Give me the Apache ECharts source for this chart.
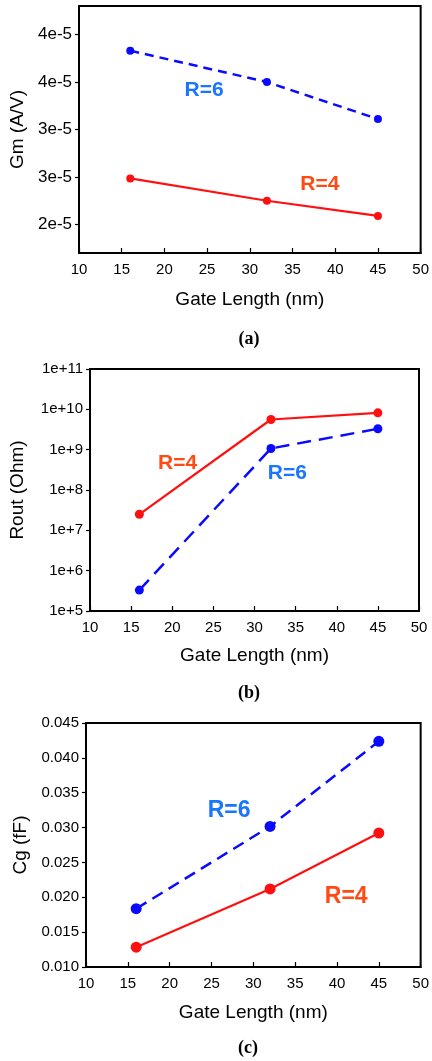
<!DOCTYPE html>
<html>
<head>
<meta charset="utf-8">
<script src="https://cdn.jsdelivr.net/npm/echarts@6/dist/echarts.min.js"></script>
<style>
html,body{margin:0;padding:0;background:#fff;}
#c{width:432px;height:1061px;}
</style>
</head>
<body>
<div id="c"></div>
<script>
// ---- data ----
var gateLength = [16, 32, 45];
var xTicks = [10, 15, 20, 25, 30, 35, 40, 45, 50];

// (a) Gm (A/V)
var gmR4 = [2.985e-5, 2.75e-5, 2.59e-5];
var gmR6 = [4.33e-5, 4.0e-5, 3.61e-5];
var gmTickValues = [2.5e-5, 3.0e-5, 3.5e-5, 4.0e-5, 4.5e-5];
var gmTickLabels = ['2e-5', '3e-5', '3e-5', '4e-5', '4e-5'];
var gmLabelR6 = [24.65, 3.91e-5];
var gmLabelR4 = [38.2, 2.926e-5];

// (b) Rout (Ohm)
var routR4 = [2.5e7, 5.6e9, 8.2e9];
var routR6 = [3.3e5, 1.07e9, 3.3e9];
var routTickValues = [1e5, 1e6, 1e7, 1e8, 1e9, 1e10, 1e11];
var routTickLabels = ['1e+5', '1e+6', '1e+7', '1e+8', '1e+9', '1e+10', '1e+11'];
var routLabelR4 = [20.66, 4.57e8];
var routLabelR6 = [34.0, 2.67e8];

// (c) Cg (fF)
var cgR4 = [0.01284, 0.0212, 0.02922];
var cgR6 = [0.01836, 0.03017, 0.04237];
var cgTickLabels = ['0.010', '0.015', '0.020', '0.025', '0.030', '0.035', '0.040', '0.045'];
var cgLabelR6 = [27.1, 0.03243];
var cgLabelR4 = [41.1, 0.02009];

// ---- styles ----
var FONT = '"Liberation Sans", Arial, sans-serif';
var BLUE_LINE = '#0a0aff';
var RED_LINE = '#ff1010';
var BLUE_TEXT = '#1a75ff';
var RED_TEXT = '#ff4a14';

function pick(values, labels, v) {
  var best = 0, bd = Infinity;
  for (var i = 0; i < values.length; i++) {
    var d = Math.abs(values[i] - v) / Math.abs(values[i]);
    if (d < bd) { bd = d; best = i; }
  }
  return labels[best];
}

function xAxisDef(idx, gap) {
  return {
    type: 'value', gridIndex: idx, min: 10, max: 50, interval: 5,
    name: 'Gate Length (nm)', nameLocation: 'middle', nameGap: gap,
    nameTextStyle: { fontFamily: FONT, fontSize: 19, color: '#000' },
    axisLine: { show: true, onZero: false, lineStyle: { color: '#000', width: 2 } },
    axisTick: { show: true, inside: true, length: 5, lineStyle: { color: '#000', width: 1.2 } },
    axisLabel: { fontFamily: FONT, fontSize: 15, color: '#000', margin: 9,
      formatter: function (v) { return String(v); } },
    splitLine: { show: false }
  };
}

function seriesPair(xi, yi, r4, r6, dash, sym, lab4, lab6, labSize) {
  function pts(arr) { return gateLength.map(function (x, i) { return [x, arr[i]]; }); }
  function mp(coord, text, color) {
    return {
      silent: true, symbol: 'circle', symbolSize: 0,
      data: [{ coord: coord, label: { show: true, position: 'inside', formatter: text,
        fontFamily: FONT, fontWeight: 'bold', fontSize: labSize, color: color } }]
    };
  }
  return [
    { type: 'line', xAxisIndex: xi, yAxisIndex: yi, data: pts(r6), symbol: 'circle', symbolSize: sym,
      itemStyle: { color: BLUE_LINE }, lineStyle: { color: BLUE_LINE, width: 2.5, type: dash },
      markPoint: mp(lab6, 'R=6', BLUE_TEXT), animation: false, z: 3 },
    { type: 'line', xAxisIndex: xi, yAxisIndex: yi, data: pts(r4), symbol: 'circle', symbolSize: sym,
      itemStyle: { color: RED_LINE }, lineStyle: { color: RED_LINE, width: 2.2 },
      markPoint: mp(lab4, 'R=4', RED_TEXT), animation: false, z: 3 }
  ];
}

var yCommon = {
  axisLine: { show: true, onZero: false, lineStyle: { color: '#000', width: 2 } },
  axisTick: { show: true, inside: false, length: 4, lineStyle: { color: '#000', width: 1.2 } },
  splitLine: { show: false },
  nameLocation: 'middle',
  nameTextStyle: { fontFamily: FONT, fontSize: 19, color: '#000' }
};

var chart = echarts.init(document.getElementById('c'), null, { renderer: 'canvas' });
var gridStyle = { show: true, borderColor: '#000', borderWidth: 2, backgroundColor: 'transparent', containLabel: false };
var serif = '"Liberation Serif", "Times New Roman", serif';

var option = {
  backgroundColor: '#fff',
  animation: false,
  title: [
    { text: '(a)', left: 244, top: 325, textAlign: 'center',
      textStyle: { fontFamily: serif, fontWeight: 'bold', fontSize: 18, color: '#000' } },
    { text: '(b)', left: 244, top: 679, textAlign: 'center',
      textStyle: { fontFamily: serif, fontWeight: 'bold', fontSize: 18, color: '#000' } },
    { text: '(c)', left: 243, top: 1034, textAlign: 'center',
      textStyle: { fontFamily: serif, fontWeight: 'bold', fontSize: 18, color: '#000' } }
  ],
  grid: [
    Object.assign({ left: 79, top: 6, width: 344, height: 247 }, gridStyle),
    Object.assign({ left: 82, top: 369, width: 337, height: 242 }, gridStyle),
    Object.assign({ left: 86, top: 723, width: 339, height: 244 }, gridStyle)
  ],
  xAxis: [xAxisDef(0, 37), xAxisDef(1, 35), xAxisDef(2, 36)],
  yAxis: [
    Object.assign({}, yCommon, {
      type: 'value', gridIndex: 0, min: 2.2e-5, max: 4.8e-5,
      name: 'Gm (A/V)', nameGap: 47,
      axisTick: Object.assign({}, yCommon.axisTick, { customValues: gmTickValues }),
      axisLabel: { customValues: gmTickValues, fontFamily: FONT, fontSize: 17, color: '#000', margin: 7,
        formatter: function (v) { return pick(gmTickValues, gmTickLabels, v); } }
    }),
    Object.assign({}, yCommon, {
      type: 'log', logBase: 10, gridIndex: 1, min: 1e5, max: 1e11,
      name: 'Rout (Ohm)', nameGap: 63,
      axisLabel: { fontFamily: FONT, fontSize: 15, color: '#000', margin: 7,
        formatter: function (v) { return pick(routTickValues, routTickLabels, v); } }
    }),
    Object.assign({}, yCommon, {
      type: 'value', gridIndex: 2, min: 0.010, max: 0.045, interval: 0.005,
      name: 'Cg (fF)', nameGap: 54,
      axisLabel: { fontFamily: FONT, fontSize: 15, color: '#000', margin: 7,
        formatter: function (v) {
          var i = Math.round((v - 0.010) / 0.005);
          return cgTickLabels[i] !== undefined ? cgTickLabels[i] : '';
        } }
    })
  ],
  series: [].concat(
    seriesPair(0, 0, gmR4, gmR6, [9, 6], 8, gmLabelR4, gmLabelR6, 21),
    seriesPair(1, 1, routR4, routR6, [14, 8], 9, routLabelR4, routLabelR6, 21),
    seriesPair(2, 2, cgR4, cgR6, [12, 7], 11, cgLabelR4, cgLabelR6, 23)
  )
};
chart.setOption(option);
</script>
</body>
</html>
